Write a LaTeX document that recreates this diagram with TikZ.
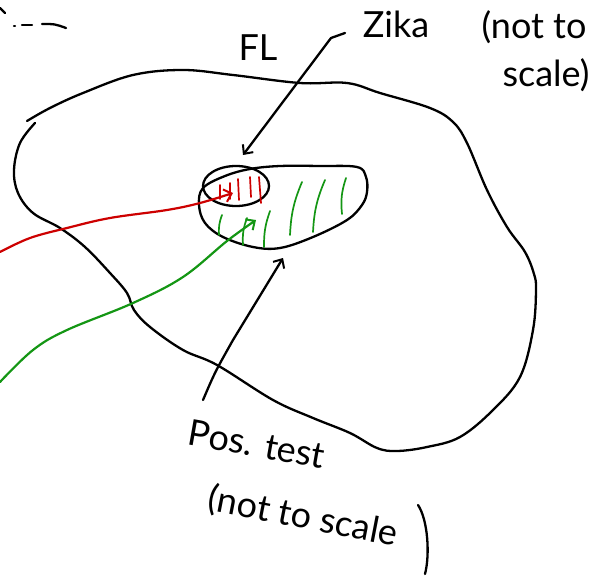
\documentclass[tikz,border=0pt]{standalone}
\usepackage{fontspec}
\setmainfont{Lato}
\usetikzlibrary{arrows.meta}
\definecolor{myred}{RGB}{205,0,0}
\definecolor{mygreen}{RGB}{20,150,20}
\begin{document}
\begin{tikzpicture}[x=1pt,y=-1pt,line cap=round,line join=round,
  pen/.style={line width=2.3pt,black},
  redpen/.style={line width=2.2pt,myred},
  greenpen/.style={line width=2.2pt,mygreen},
  redhatch/.style={line width=1.7pt,myred},
  greenhatch/.style={line width=1.7pt,mygreen},
  tip/.style={-{Straight Barb[length=7pt,width=13pt,line width=2pt]}},
  hand/.style={inner sep=0pt,font=\fontsize{36}{40}\selectfont}]
\useasboundingbox (0,0) rectangle (596,580);

% top-left fragment
\draw[pen] (0,8) -- (5,13);
\draw[pen] (14,26) -- (15,26);
\draw[pen] (22,25) -- (32,25);
\draw[pen] (42,24) .. controls (55,24) .. (66,28);

% FL outline
\draw[pen] plot[smooth,tension=0.6] coordinates {
 (35,123) (20,143) (14,170) (18,193) (33,213) (60,228) (85,247) (110,273)
 (127,293) (134,310) (150,327) (183,350) (217,365) (273,400) (313,418)
 (350,433) (377,448) (397,451) (427,447) (460,437) (493,410) (520,377)
 (533,330) (536,290) (534,274) (525,252) (507,227) (487,190) (467,143)
 (453,122) (430,108) (380,93) (347,83) (300,83) (233,75) (183,70) (133,75)
 (83,93) (50,108) (27,121)};

% positive-test blob
\draw[pen] plot[smooth cycle,tension=0.6] coordinates {
 (203,188) (225,176) (250,169) (280,166) (320,166) (357,167) (366,177)
 (367,192) (362,205) (347,220) (313,237) (280,248) (253,247) (223,237)
 (205,223) (199,205)};

% Zika ellipse
\draw[pen] (236,186) ellipse [x radius=33, y radius=20];

% red hatching
\draw[redhatch] (220,185) -- (220,199);
\draw[redhatch] (230,183) -- (230,199);
\draw[redhatch] (238,179) -- (239,200);
\draw[redhatch] (250,177) -- (251,197);
\draw[redhatch] (259,177) -- (261,203);

% green hatching
\draw[greenhatch] (222,215) to[bend right=12] (219,235);
\draw[greenhatch] (247,218) to[bend right=12] (243,245);
\draw[greenhatch] (270,211) to[bend right=10] (264,247);
\draw[greenhatch] (302,182) to[bend right=10] (290,235);
\draw[greenhatch] (325,180) to[bend right=10] (313,232);
\draw[greenhatch] (346,178) to[bend right=12] (342,214);

% labels
\node[hand] (fl) at (258,48) {FL};
\node[hand] (zika) at (396,24) {Zika};
\node[hand] (ntsa) at (534,27) {(not to};
\node[hand] (ntsb) at (546,75) {scale)};
\node[hand,rotate=-10] (pos) at (257,444) {Pos. test};
\node[hand,rotate=-11] (nts2) at (303,517) {(not to scale};
\draw[pen] (418,505) .. controls (428,520) and (430,555) .. (425,574);

% connector anchors
\coordinate (zikastart) at (345,33);
\coordinate (zikabend) at (331,38);
\coordinate (zikatip) at (243,155);
\coordinate (posstart) at (203,400);
\coordinate (posbend) at (233,340);
\coordinate (postip) at (283,258);
\coordinate (redstart) at (0,252);
\coordinate (redtip) at (233,193);
\coordinate (greenstart) at (0,382);
\coordinate (greentip) at (256,220);

% black arrows
\draw[pen,tip] (zikastart) .. controls (zikabend) .. (zikabend) -- (zikatip);
\draw[pen,tip] (posstart) .. controls (215,372) .. (posbend) -- (postip);

% red and green arrows
\draw[redpen,tip] plot[smooth,tension=0.6] coordinates {
 (redstart) (30,238) (67,228) (110,218) (167,210) (200,203) (redtip)};
\draw[greenpen,tip] plot[smooth,tension=0.6] coordinates {
 (greenstart) (33,350) (67,330) (133,303) (183,277) (227,241) (greentip)};
\end{tikzpicture}
\end{document}
